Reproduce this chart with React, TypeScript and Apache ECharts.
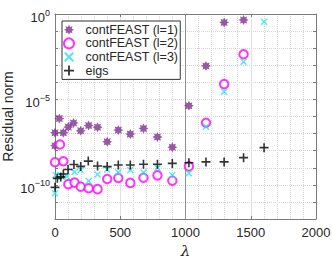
import React, { useEffect, useRef } from 'react';
import * as echarts from 'echarts';

// contFEAST (l=1)
const lambdaL1 = [0, 0, 33, 64, 102, 142, 197, 258, 326, 400, 485, 577, 678, 785, 899, 1026, 1157, 1296, 1445];
const residL1 = [1.95e-8, 1.12e-7, 7.6e-7, 1.12e-7, 2.4e-7, 4.2e-7, 1.45e-7, 2.95e-7, 2.35e-7, 3.3e-8, 1.6e-7, 9.3e-8, 2.0e-7, 6.3e-8, 1.6e-8, 4.3e-6, 9.1e-4, 0.32, 0.45];
// contFEAST (l=2)
const lambdaL2 = [0, 38, 64, 102, 150, 197, 258, 326, 400, 485, 577, 678, 785, 899, 1026, 1157, 1296, 1445];
const residL2 = [2.1e-9, 2.3e-8, 2.4e-9, 1.1e-10, 1.35e-10, 7.8e-11, 6.3e-11, 5.6e-11, 2.2e-10, 2.5e-10, 1.3e-10, 2.6e-10, 3.6e-10, 1.75e-10, 1.2e-9, 4.3e-7, 7.9e-5, 4.4e-3];
// contFEAST (l=3)
const lambdaL3 = [0, 5, 45, 90, 150, 197, 258, 326, 400, 485, 577, 678, 785, 899, 1026, 1157, 1296, 1445, 1602];
const residL3 = [3.2e-11, 3.7e-10, 3.3e-10, 3.1e-10, 5.6e-10, 7.4e-10, 1.7e-10, 4.0e-10, 7.9e-10, 5.2e-10, 7.4e-10, 5.2e-10, 1.0e-9, 3.7e-10, 4.7e-10, 2.5e-7, 2.8e-5, 1.6e-3, 0.35];
// eigs
const lambdaEigs = [0, 18, 44, 64, 100, 145, 197, 255, 326, 400, 485, 577, 678, 785, 899, 1026, 1157, 1296, 1445, 1602];
const residEigs = [7.1e-11, 2.4e-10, 2.9e-10, 4.3e-10, 7.9e-10, 1.55e-9, 1.2e-9, 2.45e-9, 1.26e-9, 1.17e-9, 1.45e-9, 1.45e-9, 1.6e-9, 1.6e-9, 1.8e-9, 1.95e-9, 2.2e-9, 2.2e-9, 3.9e-9, 1.5e-8];

const seriesNames = ['contFEAST (l=1)', 'contFEAST (l=2)', 'contFEAST (l=3)', 'eigs'];
const xTicks = { min: 0, max: 2000, step: 500 };
const yRange = { min: 1e-12, max: 1 };
const majorYLines = [1e-5, 1e-10];
const refXLine = 1000;

const zip = (xs: number[], ys: number[]) => xs.map((x, i) => [x, ys[i]]);

function starPath(): string {
  const pts: string[] = [];
  for (let k = 0; k < 16; k++) {
    const r = k % 2 === 0 ? 5 : 3;
    const a = (k * Math.PI) / 8 - Math.PI / 2;
    pts.push(`${(r * Math.cos(a)).toFixed(2)},${(r * Math.sin(a)).toFixed(2)}`);
  }
  return 'path://M' + pts.join(' L') + ' Z';
}
const plusPath = 'path://M-0.9,-5 L0.9,-5 L0.9,-0.9 L5,-0.9 L5,0.9 L0.9,0.9 L0.9,5 L-0.9,5 L-0.9,0.9 L-5,0.9 L-5,-0.9 L-0.9,-0.9 Z';
const crossPath = 'path://M-5,-3.6 L-3.6,-5 L0,-1.4 L3.6,-5 L5,-3.6 L1.4,0 L5,3.6 L3.6,5 L0,1.4 L-3.6,5 L-5,3.6 L-1.4,0 Z';

const FONT = '"Liberation Sans", Arial, sans-serif';
const TXT = '#262626';
const AX = '#7a7a7a';

export default function App() {
  const ref = useRef<HTMLDivElement>(null);
  useEffect(() => {
    if (!ref.current) return;
    document.body.style.margin = '0';
    const chart = echarts.init(ref.current, undefined, { renderer: 'svg' });
    const yLabel = (v: number) => {
      const e = Math.round(Math.log10(v));
      if (e % 5 !== 0) return '';
      const s = e < 0 ? '\u2212' + String(-e) : String(e);
      return `{b|10}{s|${s}}`;
    };
    const option: any = {
      animation: false,
      backgroundColor: '#fff',
      textStyle: { fontFamily: FONT },
      grid: { left: 55, right: 16, top: 14, bottom: 41, containLabel: false, outerBoundsMode: 'none' },
      legend: {
        left: 62,
        top: 21,
        orient: 'vertical',
        data: seriesNames,
        itemWidth: 23,
        itemHeight: 10,
        itemGap: 0,
        symbolKeepAspect: true,
        padding: [2, 2, 2, 1],
        backgroundColor: '#fff',
        borderColor: '#333',
        borderWidth: 1,
        borderRadius: 0,
        textStyle: { color: TXT, fontSize: 12.5, fontFamily: FONT, lineHeight: 13.6 },
      },
      xAxis: [
        {
          type: 'value',
          min: xTicks.min,
          max: xTicks.max,
          interval: xTicks.step,
          position: 'bottom',
          name: 'λ',
          nameLocation: 'middle',
          nameGap: 24,
          nameMoveOverlap: false,
          nameTextStyle: { color: TXT, fontSize: 15, fontStyle: 'italic', fontFamily: '"DejaVu Serif", "Liberation Serif", serif' },
          axisLine: { show: true, onZero: false, lineStyle: { color: AX, width: 1 } },
          axisTick: { show: true, inside: true, length: 3, lineStyle: { color: AX } },
          axisLabel: { color: TXT, fontSize: 13, margin: 7, fontFamily: FONT, formatter: (v: number) => String(v) },
          splitLine: { show: true, lineStyle: { color: '#e2e2e2', width: 1 } },
          minorTick: { show: false, splitNumber: 5 },
          minorSplitLine: { show: true, lineStyle: { color: '#d6d6d6', type: 'dotted', width: 1 } },
        },
        {
          type: 'value',
          min: xTicks.min,
          max: xTicks.max,
          interval: xTicks.step,
          position: 'top',
          axisLine: { show: true, onZero: false, lineStyle: { color: AX, width: 1 } },
          axisTick: { show: true, inside: true, length: 3, lineStyle: { color: AX } },
          axisLabel: { show: false },
          splitLine: { show: false },
        },
      ],
      yAxis: [
        {
          type: 'log',
          logBase: 10,
          min: yRange.min,
          max: yRange.max,
          interval: 1,
          splitNumber: 12,
          position: 'left',
          name: 'Residual norm',
          nameLocation: 'middle',
          nameGap: 40,
          nameMoveOverlap: false,
          nameTextStyle: { color: TXT, fontSize: 14, fontFamily: FONT },
          axisLine: { show: true, onZero: false, lineStyle: { color: AX, width: 1 } },
          axisTick: { show: true, inside: true, length: 3, lineStyle: { color: AX } },
          axisLabel: {
            color: TXT,
            margin: 5,
            formatter: yLabel,
            padding: [4, 0, 0, 0],
            rich: {
              b: { fontSize: 13, lineHeight: 16, verticalAlign: 'bottom', color: TXT, fontFamily: FONT },
              s: { fontSize: 9, lineHeight: 9, verticalAlign: 'top', color: TXT, fontFamily: FONT },
            },
          },
          splitLine: { show: true, lineStyle: { color: '#d6d6d6', type: 'dotted', width: 1 } },
        },
        {
          type: 'log',
          logBase: 10,
          min: yRange.min,
          max: yRange.max,
          interval: 1,
          splitNumber: 12,
          position: 'right',
          axisLine: { show: true, onZero: false, lineStyle: { color: AX, width: 1 } },
          axisTick: { show: true, inside: true, length: 3, lineStyle: { color: AX } },
          axisLabel: { show: false },
          splitLine: { show: false },
        },
      ],
      series: [
        {
          name: seriesNames[0],
          type: 'scatter',
          data: zip(lambdaL1, residL1),
          symbol: starPath(),
          symbolSize: 10,
          symbolKeepAspect: true,
          itemStyle: { color: '#7E2F8E' },
          markLine: {
            silent: true,
            symbol: 'none',
            z: 1,
            label: { show: false },
            data: [
              ...majorYLines.map((v) => ({ yAxis: v, lineStyle: { color: '#e2e2e2', type: 'solid', width: 1 } })),
              { xAxis: refXLine, lineStyle: { color: '#8f8f8f', type: 'solid', width: 1 } },
            ],
          },
        },
        {
          name: seriesNames[1],
          type: 'scatter',
          data: zip(lambdaL2, residL2),
          symbol: 'emptyCircle',
          symbolSize: 8.5,
          symbolKeepAspect: true,
          itemStyle: { color: '#FF00FF', borderColor: '#FF00FF', borderWidth: 1.6 },
        },
        {
          name: seriesNames[2],
          type: 'scatter',
          data: zip(lambdaL3, residL3),
          symbol: crossPath,
          symbolSize: 7,
          symbolKeepAspect: true,
          itemStyle: { color: '#22E5E5' },
        },
        {
          name: seriesNames[3],
          type: 'scatter',
          data: zip(lambdaEigs, residEigs),
          symbol: plusPath,
          symbolSize: 9,
          symbolKeepAspect: true,
          itemStyle: { color: '#000' },
        },
      ],
    };
    chart.setOption(option);
    return () => chart.dispose();
  }, []);
  return <div ref={ref} style={{ width: 332, height: 260 }} />;
}
